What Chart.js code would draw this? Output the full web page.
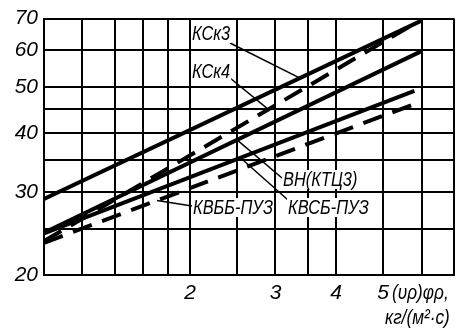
<!DOCTYPE html>
<html>
<head>
<meta charset="utf-8">
<script src="https://cdn.jsdelivr.net/npm/chart.js@4.4.1/dist/chart.umd.min.js"></script>
<style>
html, body { margin: 0; padding: 0; background: #fff; }
</style>
</head>
<body>
<canvas id="grafico" width="470" height="331"></canvas>
<script>
// valores (escalas logarítmicas nos dois eixos)
const xKsk3 = [1, 6];
const ksk3 = [29.0, 69.3];
const xKsk4 = [1, 5.9];
const ksk4 = [23.6, 69.0];
const xVn = [1, 6];
const vnKtc3 = [24.6, 59.7];
const xKvsb = [1, 5.8];
const kvsbPuz = [24.5, 49.2];
const xKvbb = [1, 6];
const kvbbPuz = [23.4, 46.7];

const xGrade = [1, 1.2, 1.4, 1.6, 1.8, 2, 2.5, 3, 3.5, 4, 5, 6, 7];
const yGrade = [20, 25, 30, 35, 40, 45, 50, 60, 70];
const xRotulos = [2, 3, 4, 5];
const yRotulos = [20, 30, 40, 50, 60, 70];

function pontos(xs, ys) {
    return xs.map((x, i) => ({ x: x, y: ys[i] }));
}

// rótulos das curvas: texto, posição do texto e ponto da curva onde a linha chega
const rotulos = [
    { texto: 'КСк3', serie: 0, xAlvo: 3.37, tx: 192, ty: 40, de: [230, 43] },
    { texto: 'КСк4', serie: 1, xAlvo: 2.9, tx: 192, ty: 78, de: [230, 78] },
    { texto: 'ВН(КТЦ3)', serie: 2, xAlvo: 2.5, tx: 283, ty: 186, de: [282, 178] },
    { texto: 'КВСБ-ПУЗ', serie: 3, xAlvo: 2.54, tx: 288, ty: 214, de: [288, 200] },
    { texto: 'КВББ-ПУЗ', serie: 4, xAlvo: 1.71, tx: 193, ty: 214, de: [192, 206] }
];

const fonteRotulo = 'italic 20px "Liberation Sans", sans-serif';
const estreito = 0.82; // letra estreita, como no original

function textoEstreito(ctx, texto, x, y) {
    ctx.save();
    ctx.translate(x, y);
    ctx.scale(estreito, 1);
    ctx.fillText(texto, 0, 0);
    ctx.restore();
}

const pluginRotulos = {
    id: 'rotulos',
    afterDatasetsDraw(chart) {
        const ctx = chart.ctx;
        const xs = chart.scales.x;
        const ys = chart.scales.y;
        ctx.save();
        rotulos.forEach(r => {
            const d = chart.data.datasets[r.serie].data;
            const t = (Math.log(r.xAlvo) - Math.log(d[0].x)) / (Math.log(d[1].x) - Math.log(d[0].x));
            const yAlvo = Math.exp(Math.log(d[0].y) + t * (Math.log(d[1].y) - Math.log(d[0].y)));
            const px = xs.getPixelForValue(r.xAlvo);
            const py = ys.getPixelForValue(yAlvo);
            ctx.strokeStyle = '#000';
            ctx.lineWidth = 1.5;
            ctx.beginPath();
            ctx.moveTo(r.de[0], r.de[1]);
            ctx.lineTo(px, py);
            ctx.stroke();

            ctx.font = fonteRotulo;
            const w = ctx.measureText(r.texto).width * estreito;
            ctx.fillStyle = '#fff';
            ctx.fillRect(r.tx - 1, r.ty - 16, w + 2, 19);
            ctx.fillStyle = '#000';
            ctx.textBaseline = 'alphabetic';
            textoEstreito(ctx, r.texto, r.tx, r.ty);
        });

        // título do eixo x
        ctx.font = 'italic 21px "Liberation Sans", sans-serif';
        ctx.fillStyle = '#000';
        textoEstreito(ctx, '(υρ)φρ,', 392, 299);
        textoEstreito(ctx, 'кг/(м²·с)', 385, 324);
        ctx.restore();
    }
};

const ctx = document.getElementById('grafico').getContext('2d');
const estiloCheio = { borderColor: '#000', borderWidth: 4, pointRadius: 0, fill: false };
const estiloTracejado = { borderColor: '#000', borderWidth: 4, pointRadius: 0, fill: false, borderDash: [20, 11] };
const fonteEixo = { family: '"Liberation Sans", sans-serif', size: 21, style: 'italic' };

const grafico = new Chart(ctx, {
    type: 'line',
    data: {
        datasets: [
            Object.assign({ label: 'КСк3', data: pontos(xKsk3, ksk3) }, estiloCheio),
            Object.assign({ label: 'КСк4', data: pontos(xKsk4, ksk4) }, estiloTracejado),
            Object.assign({ label: 'ВН(КТЦ3)', data: pontos(xVn, vnKtc3) }, estiloCheio),
            Object.assign({ label: 'КВСБ-ПУЗ', data: pontos(xKvsb, kvsbPuz) }, estiloCheio),
            Object.assign({ label: 'КВББ-ПУЗ', data: pontos(xKvbb, kvbbPuz) }, estiloTracejado)
        ]
    },
    options: {
        responsive: false,
        animation: false,
        layout: { padding: { top: 15, right: 16, left: 0, bottom: 0 } },
        plugins: {
            legend: { display: false },
            tooltip: { enabled: false }
        },
        scales: {
            x: {
                type: 'logarithmic',
                min: 1,
                max: 7,
                afterBuildTicks: s => { s.ticks = xGrade.map(v => ({ value: v })); },
                afterFit: s => { s.height = 56; },
                grid: { color: '#000', lineWidth: 2, drawTicks: false },
                border: { color: '#000', width: 2 },
                ticks: {
                    autoSkip: false,
                    maxRotation: 0,
                    padding: 6,
                    color: '#000',
                    font: fonteEixo,
                    callback: v => xRotulos.includes(v) ? String(v) : ''
                }
            },
            y: {
                type: 'logarithmic',
                min: 20,
                max: 70,
                afterBuildTicks: s => { s.ticks = yGrade.map(v => ({ value: v })); },
                afterFit: s => { s.width = 44; },
                grid: { color: '#000', lineWidth: 2, drawTicks: false },
                border: { color: '#000', width: 2 },
                ticks: {
                    autoSkip: false,
                    padding: 6,
                    color: '#000',
                    font: fonteEixo,
                    callback: v => yRotulos.includes(v) ? String(v) : ''
                }
            }
        }
    },
    plugins: [pluginRotulos]
});
</script>
</body>
</html>
